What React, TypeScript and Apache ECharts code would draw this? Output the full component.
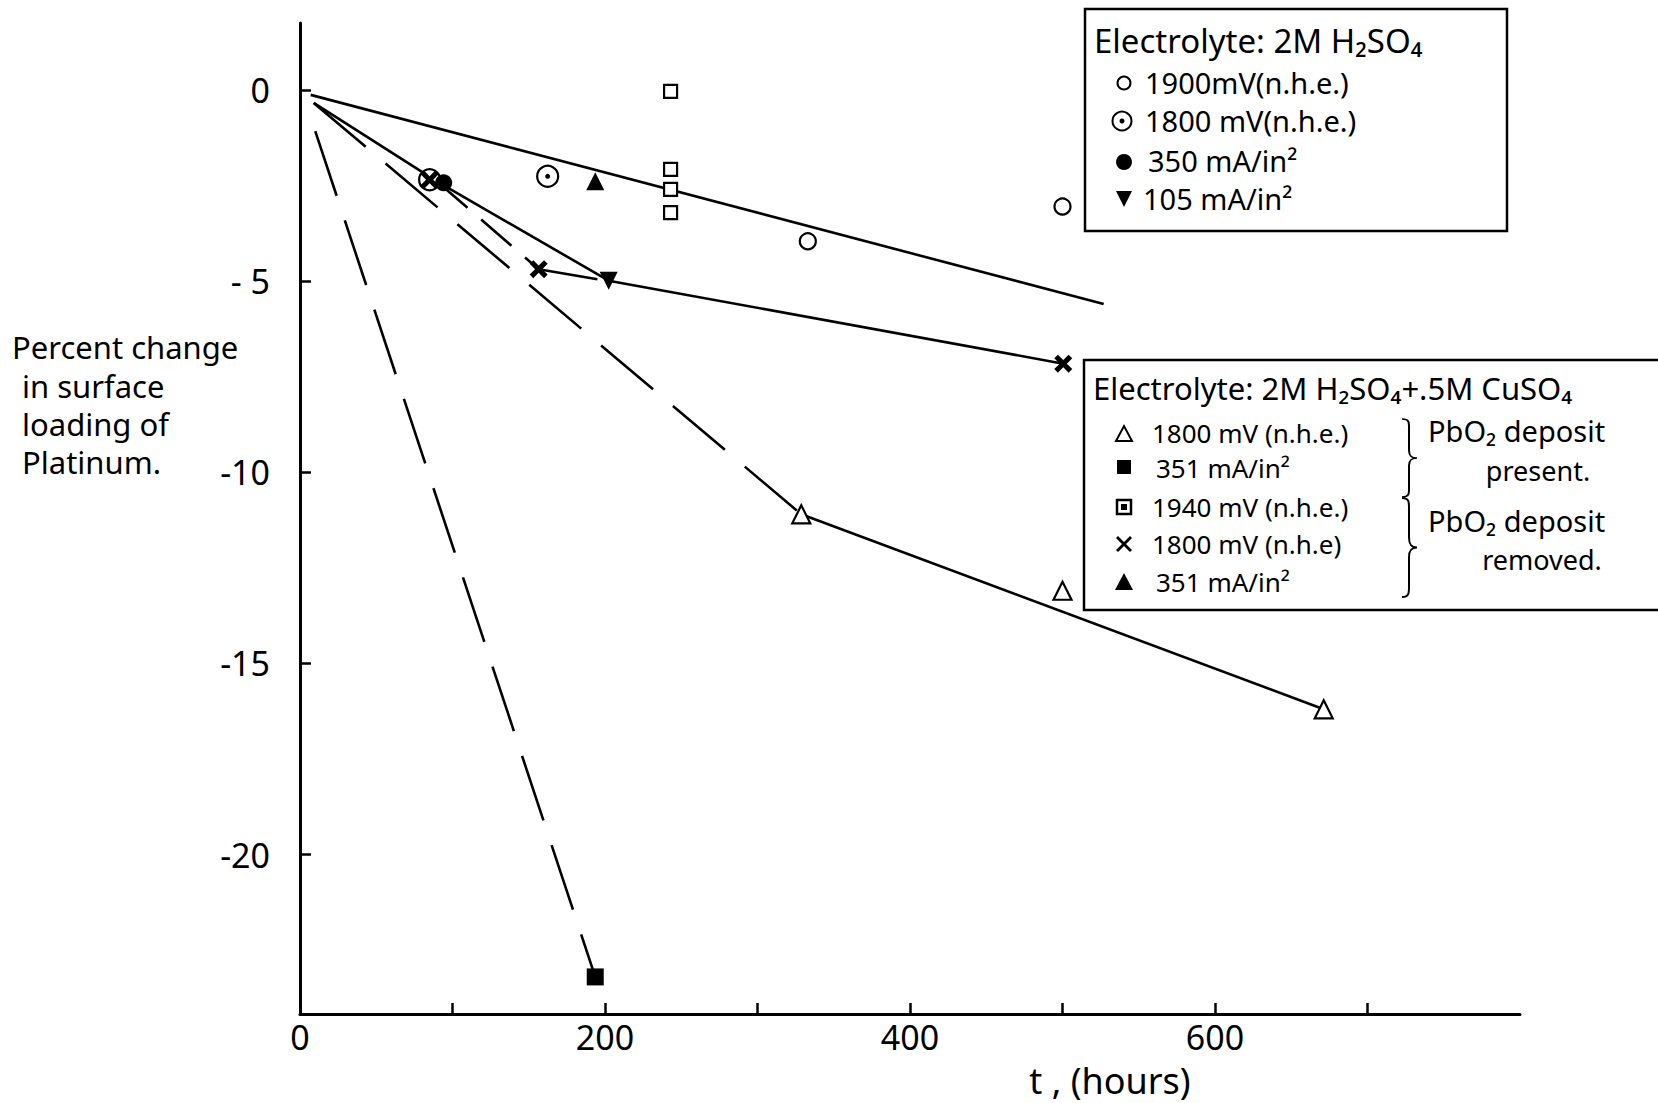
import React, { useEffect, useRef } from "react";
import * as echarts from "echarts";

// ---- axis ticks / labels ----
const xTickValues = [100, 200, 300, 400, 500, 600, 700];
const xLabelValues = [0, 200, 400, 600];
const yTickValues = [0, -5, -10, -15, -20];
const yTickLabels = ["0", "- 5", "-10", "-15", "-20"];

// ---- data points [t (hours), percent change] ----
// Electrolyte: 2M H2SO4
const h2so4_1900mV = [[333, -3.96], [500, -3.05]];
const h2so4_1800mV = [[162.4, -2.26], [85, -2.35]];
const h2so4_350mA = [[94.2, -2.43]];
const h2so4_105mA = [[202.4, -4.99]];
// Electrolyte: 2M H2SO4 + .5M CuSO4
const cu_1800mV_present = [[328.7, -11.1], [500, -13.1], [671.3, -16.2]];
const cu_351mA_present = [[193.6, -23.2]];
const cu_1940mV_removed = [[243, -0.04], [243, -2.08], [243, -2.6], [243, -3.21]];
const cu_1800mV_removed = [[156.5, -4.69], [500.5, -7.16], [85, -2.35]];
const cu_351mA_removed = [[193.6, -2.39]];

// ---- hand-drawn lines ----
const line1900Fit = [[7, -0.13], [527, -5.6]];
const line105 = [[9, -0.34], [90, -2.4], [202.4, -4.99], [500.5, -7.16]];
const lineClusterToX = [[90, -2.4], [156.5, -4.69]];
const lineXToTri = [[156.5, -4.69], [195, -4.95]];
const line1800PresentDash = [[9, -0.34], [328.7, -11.1]];
const line1800PresentSolid = [[328.7, -11.1], [671.3, -16.2]];
const line351PresentDash = [[10, -1.08], [193.6, -23.2]];

const FONT = "'Noto Sans', 'DejaVu Sans', sans-serif";
const X_PATH = "path://M0,2L2,0L5,3L8,0L10,2L7,5L10,8L8,10L5,7L2,10L0,8L3,5Z";

echarts.graphic.registerShape(
  "brace",
  echarts.graphic.extendPath(
    "M0,0 C8,0 7,5 7,15 L7,40 C7,47 9,50 15,50 C9,50 7,53 7,60 L7,85 C7,95 8,100 0,100",
    {}
  )
);

function lineSeries(data: number[][], dash: any, width = 2.6) {
  return {
    type: "line",
    data,
    symbol: "none",
    z: 2,
    silent: true,
    lineStyle: { color: "#000", width, type: dash, opacity: 1 },
  };
}

function scatter(name: string, data: number[][], symbol: string, size: number, filled: boolean, extra: any = {}) {
  return {
    type: "scatter",
    name,
    data,
    symbol,
    symbolSize: size,
    z: 5,
    itemStyle: filled
      ? { color: "#000", opacity: 1 }
      : { color: "#fff", borderColor: "#000", borderWidth: 2.2, opacity: 1 },
    ...extra,
  };
}

function txt(x: number, y: number, text: string, size: number, align = "left") {
  return {
    type: "text",
    x,
    y,
    style: { text, fontSize: size, fontFamily: FONT, fill: "#000", align, verticalAlign: "middle" },
  };
}

function legendGraphics() {
  const g: any[] = [];
  const stroke = { fill: "none", stroke: "#000", lineWidth: 2.5 };
  // box 1
  g.push({ type: "rect", shape: { x: 1085, y: 9, width: 422, height: 222 }, style: stroke });
  g.push(txt(1094, 40, "Electrolyte: 2M H₂SO₄", 33));
  g.push({ type: "circle", shape: { cx: 1124, cy: 83, r: 6.5 }, style: { fill: "#fff", stroke: "#000", lineWidth: 2 } });
  g.push(txt(1145, 82, "1900mV(n.h.e.)", 29));
  g.push({ type: "circle", shape: { cx: 1122, cy: 121, r: 9.5 }, style: { fill: "#fff", stroke: "#000", lineWidth: 2 } });
  g.push({ type: "circle", shape: { cx: 1122, cy: 121, r: 2.5 }, style: { fill: "#000" } });
  g.push(txt(1145, 120, "1800 mV(n.h.e.)", 29));
  g.push({ type: "circle", shape: { cx: 1124, cy: 162, r: 8 }, style: { fill: "#000" } });
  g.push(txt(1148, 160, "350 mA/in²", 29));
  g.push({ type: "polygon", shape: { points: [[1116, 191], [1132, 191], [1124, 207]] }, style: { fill: "#000" } });
  g.push(txt(1143, 198, "105 mA/in²", 29));

  // box 2
  g.push({ type: "rect", shape: { x: 1084, y: 360, width: 590, height: 250 }, style: stroke });
  g.push(txt(1093, 388, "Electrolyte: 2M H₂SO₄+.5M CuSO₄", 31));
  g.push({ type: "polygon", shape: { points: [[1116, 441], [1132, 441], [1124, 426]] }, style: { fill: "#fff", stroke: "#000", lineWidth: 2 } });
  g.push(txt(1152, 433, "1800 mV (n.h.e.)", 26));
  g.push({ type: "rect", shape: { x: 1117, y: 460, width: 14, height: 14 }, style: { fill: "#000" } });
  g.push(txt(1156, 468, "351 mA/in²", 26));
  g.push({ type: "rect", shape: { x: 1117, y: 500, width: 14, height: 14 }, style: { fill: "#fff", stroke: "#000", lineWidth: 2.5 } });
  g.push({ type: "rect", shape: { x: 1121, y: 504, width: 6, height: 6 }, style: { fill: "#000" } });
  g.push(txt(1152, 507, "1940 mV (n.h.e.)", 26));
  g.push({
    type: "polygon",
    shape: { points: [[1116, 538], [1118, 536], [1124, 542], [1130, 536], [1132, 538], [1126, 544], [1132, 550], [1130, 552], [1124, 546], [1118, 552], [1116, 550], [1122, 544]] },
    style: { fill: "#000" },
  });
  g.push(txt(1152, 544, "1800 mV (n.h.e)", 26));
  g.push({ type: "polygon", shape: { points: [[1115, 590], [1133, 590], [1124, 573]] }, style: { fill: "#000" } });
  g.push(txt(1156, 582, "351 mA/in²", 26));
  // braces
  g.push({ type: "brace", x: 1402, y: 419, scaleX: 1, scaleY: 0.78, style: { fill: "none", stroke: "#000", lineWidth: 2, strokeNoScale: true } });
  g.push({ type: "brace", x: 1402, y: 498, scaleX: 1, scaleY: 0.99, style: { fill: "none", stroke: "#000", lineWidth: 2, strokeNoScale: true } });
  g.push(txt(1428, 430, "PbO₂ deposit", 29));
  g.push(txt(1538, 470, "present.", 27, "center"));
  g.push(txt(1428, 520, "PbO₂ deposit", 29));
  g.push(txt(1542, 559, "removed.", 27, "center"));

  // y axis title
  g.push(txt(12, 347, "Percent change", 31));
  g.push(txt(22, 386, "in surface", 31));
  g.push(txt(22, 424, "loading of", 31));
  g.push(txt(22, 462, "Platinum.", 31));
  return g;
}

export default function App() {
  const ref = useRef<HTMLDivElement>(null);
  useEffect(() => {
    if (!ref.current) return;
    const chart = echarts.init(ref.current, null, { renderer: "svg" });
    const option: any = {
      animation: false,
      backgroundColor: "#fff",
      grid: { left: 300, right: 138, top: 23, bottom: 86, containLabel: false },
      xAxis: {
        type: "value",
        min: 0,
        max: 800,
        name: "t , (hours)",
        nameLocation: "middle",
        nameGap: 48,
        nameTextStyle: {
          fontSize: 36,
          fontFamily: FONT,
          color: "#000",
          padding: [0, 0, 0, 400],
        },
        axisLine: { onZero: false, lineStyle: { color: "#000", width: 3 } },
        axisTick: { show: true, inside: true, length: 11, customValues: xTickValues, lineStyle: { color: "#000", width: 2.5 } },
        axisLabel: {
          customValues: xLabelValues,
          fontSize: 34,
          fontFamily: FONT,
          color: "#000",
          margin: 6,
        },
        splitLine: { show: false },
      },
      yAxis: {
        type: "value",
        min: -24.17,
        max: 1.75,
        axisLine: { onZero: false, lineStyle: { color: "#000", width: 3 } },
        axisTick: { show: true, inside: true, length: 11, customValues: yTickValues, lineStyle: { color: "#000", width: 2.5 } },
        axisLabel: {
          customValues: yTickValues,
          formatter: (v: number) => {
            const i = yTickValues.indexOf(Math.round(v));
            return i >= 0 ? yTickLabels[i] : "";
          },
          fontSize: 34,
          fontFamily: FONT,
          color: "#000",
          margin: 30,
        },
        splitLine: { show: false },
      },
      graphic: legendGraphics(),
      series: [
        lineSeries(line1900Fit, "solid"),
        lineSeries(line105, "solid"),
        lineSeries(lineClusterToX, [40, 18]),
        lineSeries(lineXToTri, "solid"),
        lineSeries(line1800PresentDash, [68, 26]),
        lineSeries(line1800PresentSolid, "solid"),
        lineSeries(line351PresentDash, [68, 26]),
        scatter("1900 mV (n.h.e.)", h2so4_1900mV, "circle", 16, false),
        scatter("1800 mV (n.h.e.)", h2so4_1800mV, "circle", 21, false),
        scatter("1800 mV (n.h.e.) dot", h2so4_1800mV, "circle", 5, true, { z: 6 }),
        scatter("350 mA/in²", h2so4_350mA, "circle", 17, true),
        scatter("105 mA/in²", h2so4_105mA, "triangle", 18, true, { symbolRotate: 180 }),
        scatter("1800 mV (n.h.e.) present", cu_1800mV_present, "triangle", 18, false),
        scatter("351 mA/in² present", cu_351mA_present, "rect", 17, true),
        scatter("1940 mV (n.h.e.)", cu_1940mV_removed, "rect", 13, false),
        scatter("1800 mV (n.h.e) removed", cu_1800mV_removed, X_PATH, 18, true, { z: 7 }),
        scatter("351 mA/in² removed", cu_351mA_removed, "triangle", 18, true),
      ],
    };
    chart.setOption(option);
    return () => chart.dispose();
  }, []);
  return (
    <div
      ref={ref}
      style={{ position: "fixed", left: 0, top: 0, width: 1658, height: 1103, background: "#fff" }}
    />
  );
}
